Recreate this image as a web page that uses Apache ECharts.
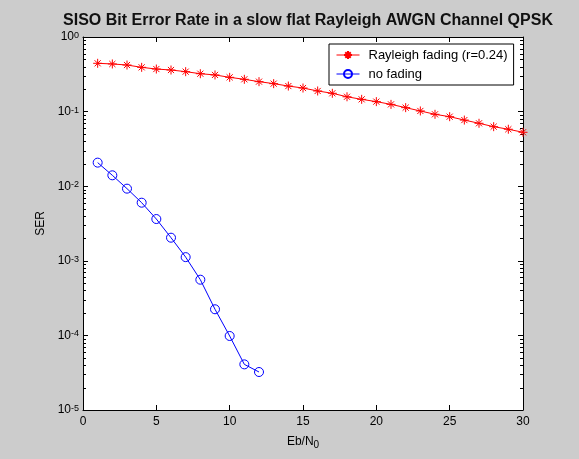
<!DOCTYPE html>
<html>
<head>
<meta charset="utf-8">
<script src="https://cdn.jsdelivr.net/npm/echarts@6/dist/echarts.min.js"></script>
<style>
  html, body { margin: 0; padding: 0; background: #cccccc; }
  #chart { width: 579px; height: 459px; }
</style>
</head>
<body>
<div id="chart"></div>
<script>
// Eb/N0 values (x axis)
const ebN0Fading = [1, 2, 3, 4, 5, 6, 7, 8, 9, 10, 11, 12, 13, 14, 15,
  16, 17, 18, 19, 20, 21, 22, 23, 24, 25, 26, 27, 28, 29, 30];
const ebN0Awgn = [1, 2, 3, 4, 5, 6, 7, 8, 9, 10, 11, 12];

// SER
const serFading = [0.444, 0.435, 0.421, 0.392, 0.372, 0.361, 0.343, 0.322, 0.310, 0.288,
  0.271, 0.252, 0.237, 0.220, 0.207, 0.189, 0.176, 0.158, 0.146, 0.136,
  0.125, 0.113, 0.102, 0.092, 0.0855, 0.077, 0.0697, 0.0628, 0.058, 0.0528];
const serAwgn = [0.0207, 0.0140, 0.00927, 0.00601, 0.00363, 0.00204,
  0.00112, 0.000558, 0.000224, 0.0000982, 0.0000409, 0.0000323];

const seriesNames = ["Rayleigh fading (r=0.24)", "no fading"];

// minor ticks of the log axis (2..9 in each decade)
const minorTicks = [];
for (let e = -5; e < 0; e++) {
  for (let m = 2; m <= 9; m++) minorTicks.push(m * Math.pow(10, e));
}

const FONT = "Liberation Sans, Arial, Helvetica, sans-serif";
const ASTERISK = "path://M5,0L5,10M0,5L10,5M1.6,1.6L8.4,8.4M8.4,1.6L1.6,8.4";

const X_MIN = 0, X_MAX = 30;

const baseX = {
  type: "value",
  min: X_MIN,
  max: X_MAX,
  interval: 5,
  axisLine: { show: true, onZero: false, lineStyle: { color: "#000", width: 1 } },
  axisTick: { show: true, inside: true, length: 5, lineStyle: { color: "#000" } },
  splitLine: { show: false },
};

const baseY = {
  type: "log",
  logBase: 10,
  min: 1e-5,
  max: 1,
  interval: 1,
  axisLine: { show: true, onZero: false, lineStyle: { color: "#000", width: 1 } },
  axisTick: { show: true, inside: true, length: 5, lineStyle: { color: "#000" } },
  splitLine: { show: false },
};

const option = {
  backgroundColor: "#cccccc",
  animation: false,
  textStyle: { fontFamily: FONT },
  title: {
    text: "SISO Bit Error Rate in a slow flat Rayleigh AWGN Channel QPSK",
    left: 303,
    textAlign: "center",
    top: 8,
    textStyle: { fontFamily: FONT, fontSize: 16, fontWeight: "bold", color: "#111" },
  },
  grid: { left: 83, right: 56, top: 37, bottom: 49, show: true, backgroundColor: "#fff", borderWidth: 0 },
  legend: {
    data: seriesNames,
    orient: "vertical",
    left: 329,
    top: 44,
    padding: [4, 6, 4, 7],
    itemGap: 5,
    itemWidth: 23,
    itemHeight: 10,
    backgroundColor: "#fff",
    borderColor: "#000",
    borderWidth: 1,
    borderRadius: 0,
    lineStyle: { width: 1 },
    textStyle: { fontFamily: FONT, fontSize: 13, color: "#000", lineHeight: 14, padding: [0, 0, 0, 4] },
  },
  xAxis: [
    {
      ...baseX,
      position: "bottom",
      name: "{n|Eb/N}{sub|0}",
      nameLocation: "middle",
      nameGap: 24,
      nameTextStyle: {
        rich: {
          n: { fontFamily: FONT, fontSize: 12, color: "#000", lineHeight: 14 },
          sub: { fontFamily: FONT, fontSize: 10, color: "#000", verticalAlign: "bottom", padding: [6, 0, 0, 0] },
        },
      },
      axisLabel: { show: true, margin: 6, fontFamily: FONT, fontSize: 12, color: "#000" },
    },
    { ...baseX, position: "top", axisLabel: { show: false } },
  ],
  yAxis: [
    {
      ...baseY,
      position: "left",
      name: "SER",
      nameLocation: "middle",
      nameGap: 36,
      nameRotate: 90,
      nameTextStyle: { fontFamily: FONT, fontSize: 12, color: "#000" },
      axisLabel: {
        show: true,
        margin: 4,
        formatter: (v) => "{b|10}{s|" + Math.round(Math.log10(v)) + "}",
        rich: {
          b: { fontFamily: FONT, fontSize: 12, color: "#000", lineHeight: 12, padding: [8, 0, 8, 0], verticalAlign: "middle" },
          s: { fontFamily: FONT, fontSize: 9, color: "#000", lineHeight: 9, verticalAlign: "top" },
        },
      },
    },
    { ...baseY, position: "right", axisLabel: { show: false } },
  ],
  series: [
    {
      name: seriesNames[0],
      type: "line",
      data: ebN0Fading.map((x, i) => [x, serFading[i]]),
      symbol: ASTERISK,
      symbolSize: 9,
      clip: false,
      lineStyle: { color: "#ff0000", width: 1 },
      itemStyle: { color: "#ff0000", borderColor: "#ff0000", borderWidth: 1 },
      z: 3,
    },
    {
      name: seriesNames[1],
      type: "line",
      data: ebN0Awgn.map((x, i) => [x, serAwgn[i]]),
      symbol: "circle",
      symbolSize: 9,
      clip: false,
      lineStyle: { color: "#0000ff", width: 1 },
      itemStyle: { color: "rgba(0,0,0,0)", borderColor: "#0000ff", borderWidth: 1 },
      z: 3,
    },
    {
      type: "custom",
      silent: true,
      data: minorTicks.map((v) => [X_MIN, v]),
      renderItem: (params, api) => {
        const v = api.value(1);
        const l = api.coord([X_MIN, v]);
        const r = api.coord([X_MAX, v]);
        const y = Math.round(l[1]) + 0.5;
        return {
          type: "group",
          children: [
            { type: "line", shape: { x1: l[0], y1: y, x2: l[0] + 3, y2: y }, style: { stroke: "#000", lineWidth: 1 } },
            { type: "line", shape: { x1: r[0] - 3, y1: y, x2: r[0], y2: y }, style: { stroke: "#000", lineWidth: 1 } },
          ],
        };
      },
      z: 2,
    },
  ],
};

const chart = echarts.init(document.getElementById("chart"));
chart.setOption(option);
</script>
</body>
</html>
